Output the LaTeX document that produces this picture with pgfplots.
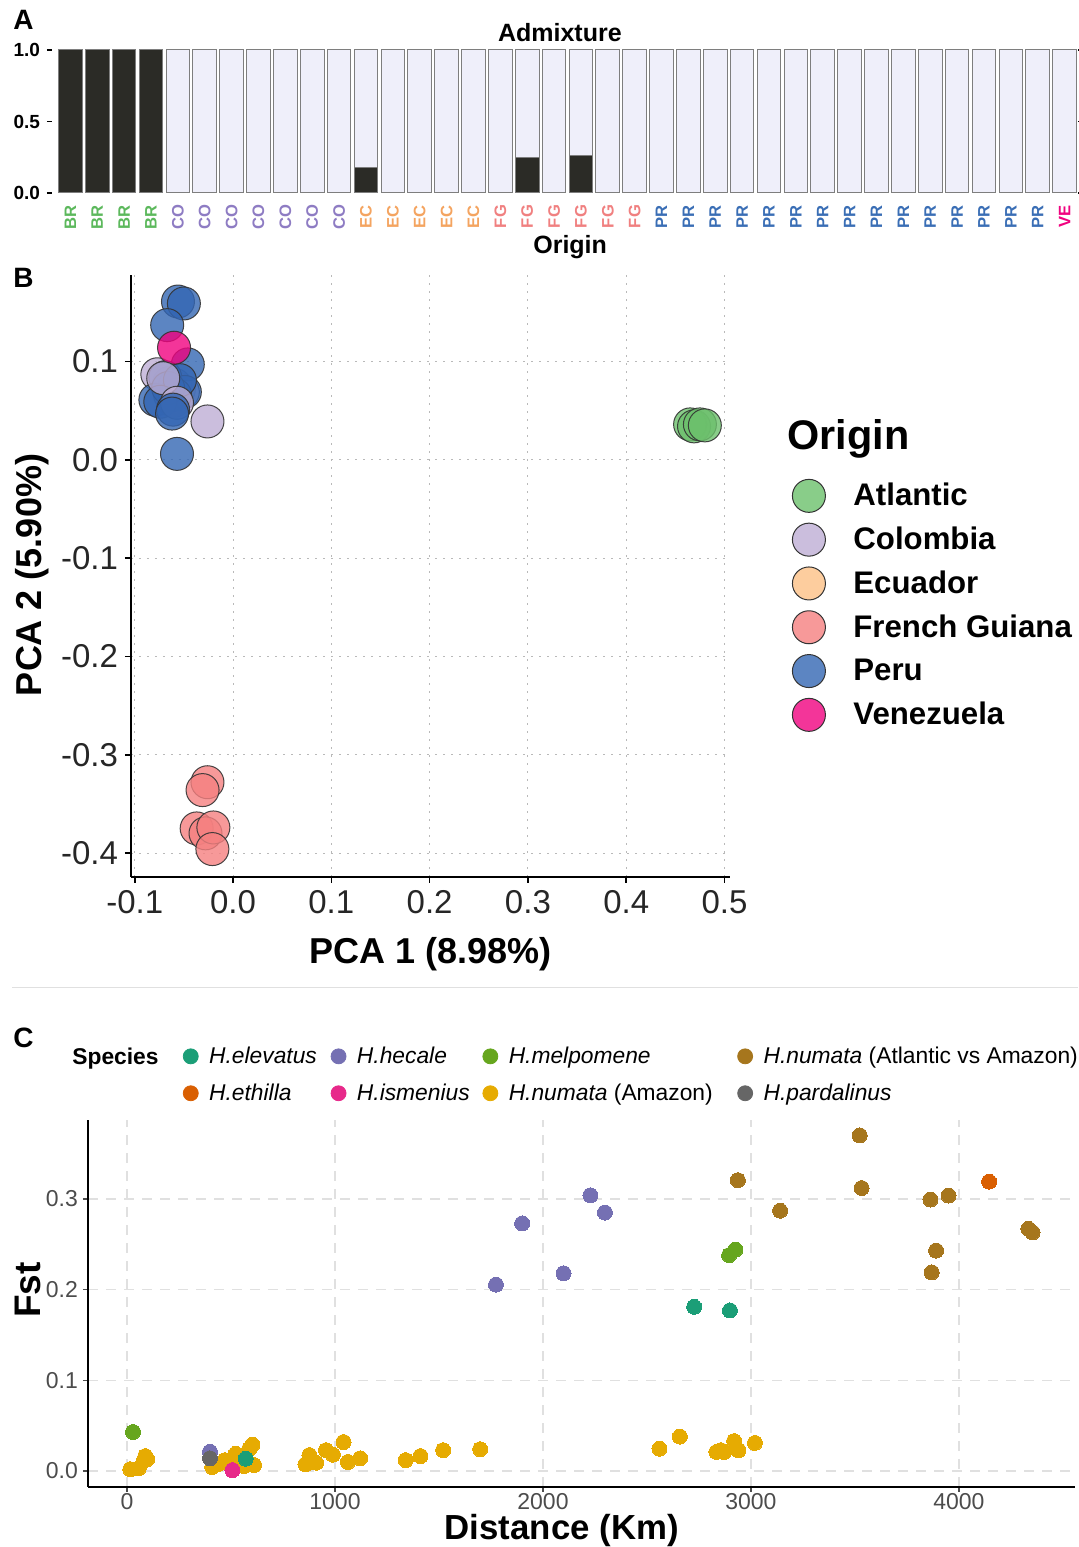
\documentclass[border=0pt]{standalone}
\usepackage{pgfplots}
\pgfplotsset{compat=1.18}
\usepackage{fontspec}
\setmainfont{Liberation Sans}

% admixture
\definecolor{kDark}{HTML}{2B2B26}
\definecolor{kLight}{HTML}{EFEFFA}
\definecolor{kEdge}{HTML}{7E7E7E}
\definecolor{lBR}{HTML}{5CB85C}
\definecolor{lCO}{HTML}{8E7CC3}
\definecolor{lEC}{HTML}{F4A460}
\definecolor{lFG}{HTML}{F08080}
\definecolor{lPR}{HTML}{3A6EB5}
\definecolor{lVE}{HTML}{F0027F}
% PCA
\definecolor{cAtl}{HTML}{6CC06C}
\definecolor{cCol}{HTML}{BEAED4}
\definecolor{cEcu}{HTML}{FDC086}
\definecolor{cFG}{HTML}{F58080}
\definecolor{cPer}{HTML}{3366B3}
\definecolor{cVen}{HTML}{F0027F}
% Dark2
\definecolor{dEle}{HTML}{1B9E77}
\definecolor{dEth}{HTML}{D95F02}
\definecolor{dHec}{HTML}{7570B3}
\definecolor{dIsm}{HTML}{E7298A}
\definecolor{dMel}{HTML}{66A61E}
\definecolor{dNAm}{HTML}{E6AB02}
\definecolor{dNAt}{HTML}{A6761D}
\definecolor{dPar}{HTML}{666666}

\pgfplotsset{
  pcapt/.style={only marks, mark=*, mark size=8.25pt, forget plot,
    mark options={fill=#1, fill opacity=0.8, draw=black!80, draw opacity=0.9, line width=0.5pt}},
  pcaleg/.style={legend image code/.code={\draw[fill=#1, fill opacity=0.8, draw=black!80, line width=0.5pt] (0pt,0pt) circle (8.25pt);}},
  fstpt/.style={only marks, mark=*, mark size=3.75pt, forget plot, color=#1, mark options={draw=#1, fill=#1, line width=0pt}},
  fstleg/.style={legend image code/.code={\fill[#1] (0pt,0pt) circle (3.75pt);}},
}

\begin{document}
\begin{tikzpicture}
\path[use as bounding box] (0,0) rectangle (539pt,773.5pt);

\node[anchor=north west, inner sep=0pt, font=\bfseries\fontsize{14}{14}\selectfont] at (6.5pt,768.5pt) {A};
\node[anchor=north west, inner sep=0pt, font=\bfseries\fontsize{14}{14}\selectfont] at (6.5pt,639.5pt) {B};
\node[anchor=north west, inner sep=0pt, font=\bfseries\fontsize{14}{14}\selectfont] at (6.5pt,259.5pt) {C};
\draw[black!12, line width=0.5pt] (6pt,279.5pt) -- (539pt,279.5pt);

% ---------------- A: admixture
\begin{axis}[at={(26pt,677pt)}, anchor=south west, scale only axis,
  width=513pt, height=71.5pt,
  xmin=-0.685, xmax=37.5, ymin=0, ymax=1,
  ybar stacked, bar width=0.88,
  axis line style={draw=none},
  tick align=outside, major tick length=2.5pt,
  xtick style={draw=none}, ytick style={draw=black, line width=0.7pt},
  ytick={0,0.5,1}, yticklabels={0.0,0.5,1.0},
  yticklabel style={font=\bfseries\fontsize{9.5}{10}\selectfont},
  xtick={0,...,37},
  xticklabels={\textcolor{lBR}{BR},\textcolor{lBR}{BR},\textcolor{lBR}{BR},\textcolor{lBR}{BR},
    \textcolor{lCO}{CO},\textcolor{lCO}{CO},\textcolor{lCO}{CO},\textcolor{lCO}{CO},\textcolor{lCO}{CO},\textcolor{lCO}{CO},\textcolor{lCO}{CO},
    \textcolor{lEC}{EC},\textcolor{lEC}{EC},\textcolor{lEC}{EC},\textcolor{lEC}{EC},\textcolor{lEC}{EC},
    \textcolor{lFG}{FG},\textcolor{lFG}{FG},\textcolor{lFG}{FG},\textcolor{lFG}{FG},\textcolor{lFG}{FG},\textcolor{lFG}{FG},
    \textcolor{lPR}{PR},\textcolor{lPR}{PR},\textcolor{lPR}{PR},\textcolor{lPR}{PR},\textcolor{lPR}{PR},
    \textcolor{lPR}{PR},\textcolor{lPR}{PR},\textcolor{lPR}{PR},\textcolor{lPR}{PR},\textcolor{lPR}{PR},
    \textcolor{lPR}{PR},\textcolor{lPR}{PR},\textcolor{lPR}{PR},\textcolor{lPR}{PR},\textcolor{lPR}{PR},
    \textcolor{lVE}{VE}},
  xticklabel style={font=\bfseries\fontsize{8.3}{8.3}\selectfont, rotate=90, anchor=east},
  title={Admixture},
  title style={font=\bfseries\fontsize{12.5}{13}\selectfont, at={(axis description cs:0.495,0.972)}, anchor=base},
  xlabel={Origin},
  xlabel style={font=\bfseries\fontsize{12.5}{13}\selectfont, at={(axis description cs:0.505,-0.42)}, anchor=base},
]
\addplot[fill=kDark, draw=kEdge, line width=0.5pt] coordinates {
 (0,1) (1,1) (2,1) (3,1) (4,0) (5,0) (6,0) (7,0) (8,0) (9,0) (10,0)
 (11,0.18) (12,0) (13,0) (14,0) (15,0)
 (16,0) (17,0.25) (18,0) (19,0.26) (20,0) (21,0)
 (22,0) (23,0) (24,0) (25,0) (26,0) (27,0) (28,0) (29,0) (30,0) (31,0)
 (32,0) (33,0) (34,0) (35,0) (36,0) (37,0)};
\addplot[fill=kLight, draw=kEdge, line width=0.5pt] coordinates {
 (0,0) (1,0) (2,0) (3,0) (4,1) (5,1) (6,1) (7,1) (8,1) (9,1) (10,1)
 (11,0.82) (12,1) (13,1) (14,1) (15,1)
 (16,1) (17,0.75) (18,1) (19,0.74) (20,1) (21,1)
 (22,1) (23,1) (24,1) (25,1) (26,1) (27,1) (28,1) (29,1) (30,1) (31,1)
 (32,1) (33,1) (34,1) (35,1) (36,1) (37,1)};
\end{axis}

% ---------------- B: PCA
\begin{axis}[at={(65.5pt,335pt)}, anchor=south west, scale only axis,
  width=299.5pt, height=301pt,
  xmin=-0.1038, xmax=0.5056, ymin=-0.4244, ymax=0.188,
  axis x line*=bottom, axis y line*=left,
  axis line style={-, line width=1pt, black},
  tick align=outside, major tick length=3pt,
  tick style={black, line width=0.8pt},
  xtick={-0.1,0,0.1,0.2,0.3,0.4,0.5}, xticklabels={-0.1,0.0,0.1,0.2,0.3,0.4,0.5},
  ytick={-0.4,-0.3,-0.2,-0.1,0,0.1}, yticklabels={-0.4,-0.3,-0.2,-0.1,0.0,0.1},
  ticklabel style={font=\fontsize{16.5}{18}\selectfont, text=black!85},
  grid=major,
  major grid style={gray!55, line width=0.5pt, dash pattern=on 0.8pt off 3.2pt},
  xlabel={PCA 1 (8.98\%)},
  xlabel style={font=\bfseries\fontsize{18}{20}\selectfont, at={(axis description cs:0.5008,-0.143)}, anchor=base},
  ylabel={PCA 2 (5.90\%)},
  ylabel style={font=\bfseries\fontsize{18}{20}\selectfont, at={(axis description cs:-0.1486,0.5017)}, anchor=base},
  legend style={draw=none, fill=none, at={(1.1027,0.662)}, anchor=north west,
    inner sep=0pt, row sep=4.9pt, nodes={inner sep=0pt},
    font=\bfseries\fontsize{15.6}{16}\selectfont,
    /tikz/every odd column/.style={column sep=13.75pt}},
  legend cell align=left,
  clip=false,
]
\addplot[pcapt=cAtl] coordinates {(0.465,0.036) (0.469,0.034) (0.475,0.036) (0.480,0.035)};
\addplot[pcapt=cEcu] coordinates {(-0.062,0.070) (-0.058,0.064) (-0.065,0.078) (-0.055,0.072) (-0.060,0.060)};
\addplot[pcapt=cCol] coordinates {(-0.077,0.087) (-0.064,0.066) (-0.059,0.076) (-0.051,0.069)};
\addplot[pcapt=cFG] coordinates {(-0.026,-0.328) (-0.031,-0.336) (-0.037,-0.375) (-0.028,-0.380) (-0.020,-0.374) (-0.021,-0.396)};
\addplot[pcapt=cPer] coordinates {(-0.056,0.161) (-0.050,0.159) (-0.067,0.137) (-0.046,0.097)
  (-0.069,0.084) (-0.079,0.061) (-0.049,0.069) (-0.059,0.066) (-0.066,0.073)
  (-0.054,0.081) (-0.074,0.059) (-0.057,0.006)};
\addplot[pcapt=cVen] coordinates {(-0.060,0.114)};
\addplot[pcapt=cCol] coordinates {(-0.071,0.083) (-0.057,0.058) (-0.026,0.039)};
\addplot[pcapt=cPer] coordinates {(-0.061,0.051) (-0.062,0.047)};
\addlegendimage{pcaleg=cAtl}\addlegendentry{Atlantic}
\addlegendimage{pcaleg=cCol}\addlegendentry{Colombia}
\addlegendimage{pcaleg=cEcu}\addlegendentry{Ecuador}
\addlegendimage{pcaleg=cFG}\addlegendentry{French Guiana}
\addlegendimage{pcaleg=cPer}\addlegendentry{Peru}
\addlegendimage{pcaleg=cVen}\addlegendentry{Venezuela}
\node[anchor=base west, inner sep=0pt, font=\bfseries\fontsize{20.7}{22}\selectfont] at (axis description cs:1.0952,0.7093) {Origin};
\end{axis}

% ---------------- C: Fst vs distance
\begin{axis}[at={(44pt,30pt)}, anchor=south west, scale only axis,
  width=493.5pt, height=183.5pt,
  xmin=-187.5, xmax=4558, ymin=-0.0176, ymax=0.387,
  axis x line*=bottom, axis y line*=left,
  axis line style={-, line width=0.75pt, black},
  tick align=outside, major tick length=2.5pt,
  tick style={black!70, line width=0.6pt},
  xtick={0,1000,2000,3000,4000}, xticklabels={0,1000,2000,3000,4000},
  ytick={0,0.1,0.2,0.3}, yticklabels={0.0,0.1,0.2,0.3},
  ticklabel style={font=\fontsize{11.5}{12}\selectfont, text=black!70},
  xticklabel style={yshift=3pt},
  yticklabel style={xshift=1pt},
  grid=major,
  major grid style={black!12, line width=0.6pt, dash pattern=on 5pt off 4pt},
  xlabel={Distance (Km)},
  xlabel style={font=\bfseries\fontsize{17.4}{19}\selectfont, at={(axis description cs:0.480,-0.1444)}, anchor=base},
  ylabel={Fst},
  ylabel style={font=\bfseries\fontsize{18.5}{20}\selectfont, at={(axis description cs:-0.048,0.537)}, anchor=base},
  legend style={draw=none, fill=none, legend columns=4, at={(0.0957,1.2011)}, anchor=north west,
    inner sep=0pt, row sep=8.7pt, nodes={inner sep=0pt},
    font=\fontsize{11.4}{12}\selectfont,
    /tikz/every odd column/.style={column sep=5.25pt}},
  legend cell align=left,
  clip=false,
]
\addplot[fstpt=dNAm] coordinates {(16,0.002) (56,0.003) (80,0.011) (88,0.0165) (97,0.013)
  (410,0.0044) (442,0.008) (470,0.012) (523,0.019) (539,0.0074) (563,0.0055) (587,0.024)
  (603,0.029) (611,0.0066) (858,0.0074) (877,0.0176) (909,0.0092) (957,0.023) (990,0.018)
  (1041,0.032) (1062,0.010) (1121,0.014) (1340,0.012) (1411,0.0165) (1520,0.023) (1698,0.024)
  (2560,0.0246) (2658,0.038) (2834,0.021) (2855,0.023) (2871,0.021) (2919,0.033) (2940,0.023) (3019,0.031)};
\addplot[fstpt=dNAt] coordinates {(2937,0.3206) (3140,0.287) (3523,0.370) (3532,0.312) (3863,0.2993)
  (3950,0.3037) (3890,0.243) (3869,0.219) (4334,0.267) (4354,0.263)};
\addplot[fstpt=dHec] coordinates {(1774,0.2055) (1900,0.273) (2099,0.218) (2228,0.304) (2298,0.285) (399,0.0213)};
\addplot[fstpt=dEle] coordinates {(2727,0.181) (2899,0.177) (571,0.0136)};
\addplot[fstpt=dMel] coordinates {(2895,0.238) (2925,0.244) (29,0.043)};
\addplot[fstpt=dEth] coordinates {(4145,0.319)};
\addplot[fstpt=dIsm] coordinates {(507,0.001)};
\addplot[fstpt=dPar] coordinates {(399,0.014)};
\addlegendimage{fstleg=dEle}\addlegendentry{\makebox[60.75pt][l]{\textit{H.elevatus}\vphantom{(p}}}
\addlegendimage{fstleg=dHec}\addlegendentry{\makebox[62.75pt][l]{\textit{H.hecale}\vphantom{(p}}}
\addlegendimage{fstleg=dMel}\addlegendentry{\makebox[114.25pt][l]{\textit{H.melpomene}\vphantom{(p}}}
\addlegendimage{fstleg=dNAt}\addlegendentry{\textit{H.numata} (Atlantic vs Amazon)}
\addlegendimage{fstleg=dEth}\addlegendentry{\makebox[60.75pt][l]{\textit{H.ethilla}\vphantom{(p}}}
\addlegendimage{fstleg=dIsm}\addlegendentry{\makebox[62.75pt][l]{\textit{H.ismenius}\vphantom{(p}}}
\addlegendimage{fstleg=dNAm}\addlegendentry{\makebox[114.25pt][l]{\textit{H.numata} (Amazon)}}
\addlegendimage{fstleg=dPar}\addlegendentry{\textit{H.pardalinus}\vphantom{(p}}
\node[anchor=base west, inner sep=0pt, font=\bfseries\fontsize{11.4}{12}\selectfont] at (axis description cs:-0.0162,1.1499) {Species};
\end{axis}
\end{tikzpicture}
\end{document}
